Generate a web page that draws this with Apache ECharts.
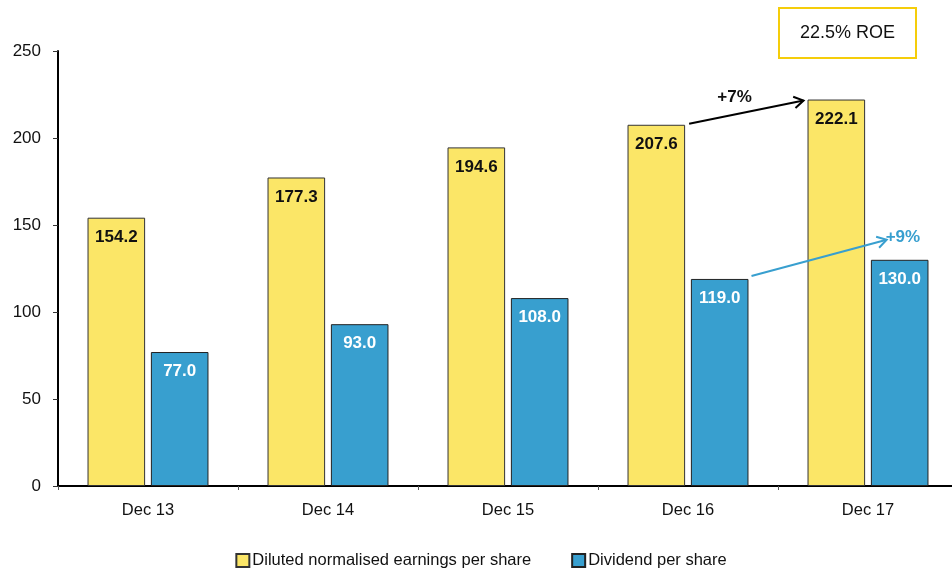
<!DOCTYPE html>
<html>
<head>
<meta charset="utf-8">
<title>EPS and dividend</title>
<script src="https://cdn.jsdelivr.net/npm/echarts@6/dist/echarts.min.js"></script>
<style>
  html, body { margin: 0; padding: 0; background: #fff; overflow: hidden; }
  #chart { width: 962px; height: 572px; }
</style>
</head>
<body>
<div id="chart"></div>
<script>
var years = ['Dec 13', 'Dec 14', 'Dec 15', 'Dec 16', 'Dec 17'];
var eps = [154.2, 177.3, 194.6, 207.6, 222.1];
var dps = [77.0, 93.0, 108.0, 119.0, 130.0];
var yTicks = [0, 50, 100, 150, 200, 250];

var FONT = '"Liberation Sans", Arial, sans-serif';
var YELLOW = '#fbe667';
var BLUE = '#389fcf';

var chart = echarts.init(document.getElementById('chart'));

var option = {
  animation: false,
  textStyle: { fontFamily: FONT },
  grid: { left: 58, top: 51, width: 900, height: 435, containLabel: false },
  legend: {
    top: 547,
    left: 'center',
    itemGap: 40,
    itemWidth: 13,
    itemHeight: 13,
    icon: 'rect',
    textStyle: { fontFamily: FONT, fontSize: 16.5, color: '#111', padding: [0, 0, 0, -2] },
    data: ['Diluted normalised earnings per share', 'Dividend per share']
  },
  xAxis: {
    type: 'category',
    data: years,
    axisLine: { lineStyle: { color: '#000', width: 2 } },
    axisTick: { show: true, length: 4, lineStyle: { color: '#555' } },
    axisLabel: { fontFamily: FONT, fontSize: 16.5, color: '#111', margin: 16 }
  },
  yAxis: {
    type: 'value',
    min: yTicks[0],
    max: yTicks[yTicks.length - 1],
    interval: 50,
    splitLine: { show: false },
    axisLine: { show: true, lineStyle: { color: '#000', width: 2 } },
    axisTick: { show: true, length: 5, lineStyle: { color: '#333' } },
    axisLabel: { fontFamily: FONT, fontSize: 17, color: '#111', margin: 17 }
  },
  series: [
    {
      name: 'Diluted normalised earnings per share',
      type: 'bar',
      data: eps,
      barWidth: '32%',
      barGap: '10%',
      itemStyle: { color: YELLOW, borderColor: '#333', borderWidth: 1 },
      label: {
        show: true, position: 'insideTop', distance: 11,
        fontFamily: FONT, fontSize: 17, fontWeight: 'bold', color: '#111',
        formatter: function (p) { return p.value.toFixed(1); }
      }
    },
    {
      name: 'Dividend per share',
      type: 'bar',
      data: dps,
      barWidth: '32%',
      itemStyle: { color: BLUE, borderColor: '#222', borderWidth: 1 },
      label: {
        show: true, position: 'insideTop', distance: 11,
        fontFamily: FONT, fontSize: 17, fontWeight: 'bold', color: '#fff',
        formatter: function (p) { return p.value.toFixed(1); }
      }
    }
  ]
};

chart.setOption(option);

// annotations placed from the axis scales
function px(idx, v) { return chart.convertToPixel({ gridIndex: 0 }, [idx, v]); }
var half = 180 * 0.32 / 2;      // half bar width in px
var off = 180 * 0.32 * 0.55;    // centre offset of each bar

var a1s = px(3, eps[3]); a1s = [a1s[0] - off + half + 4, a1s[1] - 1];
var a1e = px(4, eps[4]); a1e = [a1e[0] - off - half - 4, a1e[1] + 1];
var b1s = px(3, dps[3]); b1s = [b1s[0] + off + half + 3, b1s[1] - 3];
var b1e = px(4, dps[4]); b1e = [b1e[0] + off - 13, b1e[1] - 20];

function arrow(s, e, color) {
  var ang = Math.atan2(e[1] - s[1], e[0] - s[0]);
  var L = 11, w = 0.55;
  return [
    { type: 'line', z: 100, shape: { x1: s[0], y1: s[1], x2: e[0], y2: e[1] },
      style: { stroke: color, lineWidth: 2 } },
    { type: 'polyline', z: 100, shape: { points: [
        [e[0] - L * Math.cos(ang - w), e[1] - L * Math.sin(ang - w)],
        [e[0], e[1]],
        [e[0] - L * Math.cos(ang + w), e[1] - L * Math.sin(ang + w)] ] },
      style: { stroke: color, lineWidth: 2, fill: null } }
  ];
}

var g = [];
g = g.concat(arrow(a1s, a1e, '#000'));
g = g.concat(arrow(b1s, b1e, BLUE));
g.push({ type: 'text', z: 100, x: (a1s[0] + a1e[0]) / 2 - 29, y: (a1s[1] + a1e[1]) / 2 - 23,
  style: { text: '+7%', fontFamily: FONT, fontSize: 17, fontWeight: 'bold', fill: '#111' } });
g.push({ type: 'text', z: 100, x: b1e[0] - 1, y: b1e[1] - 11,
  style: { text: '+9%', fontFamily: FONT, fontSize: 17, fontWeight: 'bold', fill: BLUE } });
g.push({ type: 'rect', z: 100, shape: { x: 779, y: 8, width: 137, height: 50 },
  style: { fill: '#fff', stroke: '#f5cd0a', lineWidth: 2 } });
g.push({ type: 'text', z: 101, x: 847.5, y: 33,
  style: { text: '22.5% ROE', fontFamily: FONT, fontSize: 18, fill: '#111', align: 'center', verticalAlign: 'middle' } });

chart.setOption({ graphic: g });
</script>
</body>
</html>
